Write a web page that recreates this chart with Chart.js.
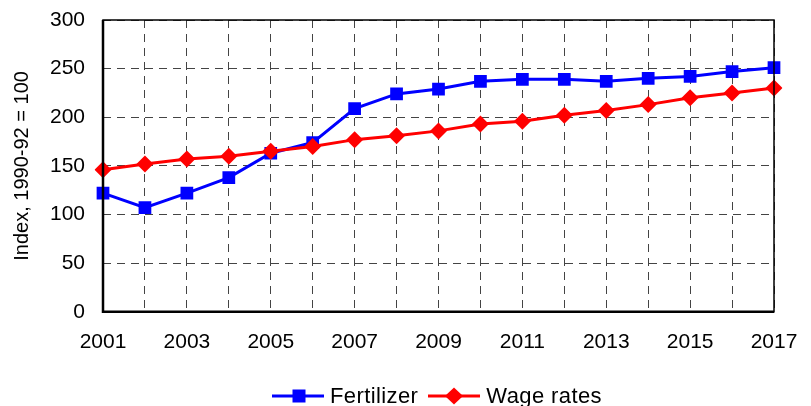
<!DOCTYPE html>
<html lang="en">
<head>
    <meta charset="UTF-8">
    <title>Fertilizer and wage rate index</title>
    <script src="https://cdn.jsdelivr.net/npm/chart.js"></script>
    <style>
        body {
            margin: 0;
            background: #ffffff;
            font-family: "Liberation Sans", Arial, sans-serif;
        }
        #wrap {
            position: relative;
            width: 811px;
            height: 406px;
        }
        #legend {
            position: absolute;
            left: 272px;
            top: 383px;
            display: flex;
            align-items: center;
            font-size: 22px;
            letter-spacing: 0.4px;
            color: #000;
            white-space: nowrap;
        }
        #legend span.item {
            display: flex;
            align-items: center;
            margin-right: 10px;
        }
        #legend svg {
            margin-right: 6px;
        }
    </style>
</head>
<body>
<div id="wrap">
    <canvas id="chart" width="811" height="406"></canvas>
    <div id="legend"></div>
</div>
<script>
    // values
    const years = ['2001', '2002', '2003', '2004', '2005', '2006', '2007', '2008', '2009',
                   '2010', '2011', '2012', '2013', '2014', '2015', '2016', '2017'];
    const fertilizer = [122, 107, 122, 138, 163, 174, 209, 224, 229, 237, 239, 239, 237, 240, 242, 247, 251];
    const wageRates = [146, 152, 157, 160, 165, 170, 177, 181, 186, 193, 196, 202, 207, 213, 220, 225, 230];
    const yTicks = [0, 50, 100, 150, 200, 250, 300];

    const FONT = '"Liberation Sans", Arial, sans-serif';

    // black frame around the plot area
    const frame = {
        id: 'frame',
        afterDatasetsDraw(chart) {
            const a = chart.chartArea;
            const ctx = chart.ctx;
            ctx.save();
            ctx.strokeStyle = '#000';
            ctx.lineWidth = 1.5;
            ctx.strokeRect(a.left, a.top, a.right - a.left, a.bottom - a.top);
            ctx.lineWidth = 2.5;
            ctx.beginPath();
            ctx.moveTo(a.left, a.top);
            ctx.lineTo(a.left, a.bottom);
            ctx.lineTo(a.right, a.bottom);
            ctx.stroke();
            ctx.restore();
        }
    };

    const datasets = [
        {
            label: 'Fertilizer',
            data: fertilizer,
            borderColor: '#0000ff',
            backgroundColor: '#0000ff',
            borderWidth: 3,
            pointStyle: 'rect',
            pointRadius: 9,
            pointBorderWidth: 0,
            order: 1
        },
        {
            label: 'Wage rates',
            data: wageRates,
            borderColor: '#ff0000',
            backgroundColor: '#ff0000',
            borderWidth: 3,
            pointStyle: 'rectRot',
            pointRadius: 8.5,
            pointBorderWidth: 0,
            order: 0
        }
    ];

    new Chart(document.getElementById('chart'), {
        type: 'line',
        data: { labels: years, datasets: datasets },
        plugins: [frame],
        options: {
            responsive: false,
            animation: false,
            layout: { autoPadding: false, padding: { left: 0, right: 37, top: 20, bottom: 33 } },
            plugins: {
                legend: { display: false },
                tooltip: { enabled: false }
            },
            scales: {
                x: {
                    offset: false,
                    afterFit: function (axis) {
                        axis.paddingLeft = 0;
                        axis.paddingRight = 0;
                    },
                    grid: {
                        offset: false,
                        color: '#444',
                        lineWidth: 1,
                        drawTicks: false
                    },
                    border: { display: false, dash: [8, 6] },
                    ticks: {
                        autoSkip: false,
                        maxRotation: 0,
                        padding: 18,
                        color: '#000',
                        font: { family: FONT, size: 21 },
                        callback: function (val, i) {
                            return i % 2 === 0 ? years[i] : '';
                        }
                    }
                },
                y: {
                    min: 0,
                    max: 300,
                    afterBuildTicks: function (axis) {
                        axis.ticks = yTicks.map(v => ({ value: v }));
                    },
                    afterFit: function (axis) {
                        axis.width = 103;
                        axis.paddingTop = 0;
                        axis.paddingBottom = 0;
                    },
                    grid: {
                        color: '#444',
                        lineWidth: 1,
                        drawTicks: false
                    },
                    border: { display: false, dash: [8, 6] },
                    ticks: {
                        padding: 18,
                        color: '#000',
                        font: { family: FONT, size: 21 }
                    },
                    title: {
                        display: true,
                        text: 'Index, 1990-92 = 100',
                        color: '#000',
                        font: { family: FONT, size: 20 },
                        padding: { top: 10, bottom: 9 }
                    }
                }
            }
        }
    });

    // legend: line with marker, then label
    function legendItem(label, color, shape) {
        let marker;
        if (shape === 'rect') {
            marker = `<rect x="20.5" y="1.5" width="13" height="13" fill="${color}"/>`;
        } else {
            marker = `<polygon points="17,8 26,-0.5 35,8 26,16.5" fill="${color}"/>`;
        }
        return `<span class="item"><svg width="52" height="16" viewBox="0 0 52 16" overflow="visible">` +
            `<line x1="0" y1="8" x2="52" y2="8" stroke="${color}" stroke-width="3"/>${marker}</svg>` +
            `<span>${label}</span></span>`;
    }
    document.getElementById('legend').innerHTML =
        legendItem('Fertilizer', '#0000ff', 'rect') + legendItem('Wage rates', '#ff0000', 'diamond');
</script>
</body>
</html>
